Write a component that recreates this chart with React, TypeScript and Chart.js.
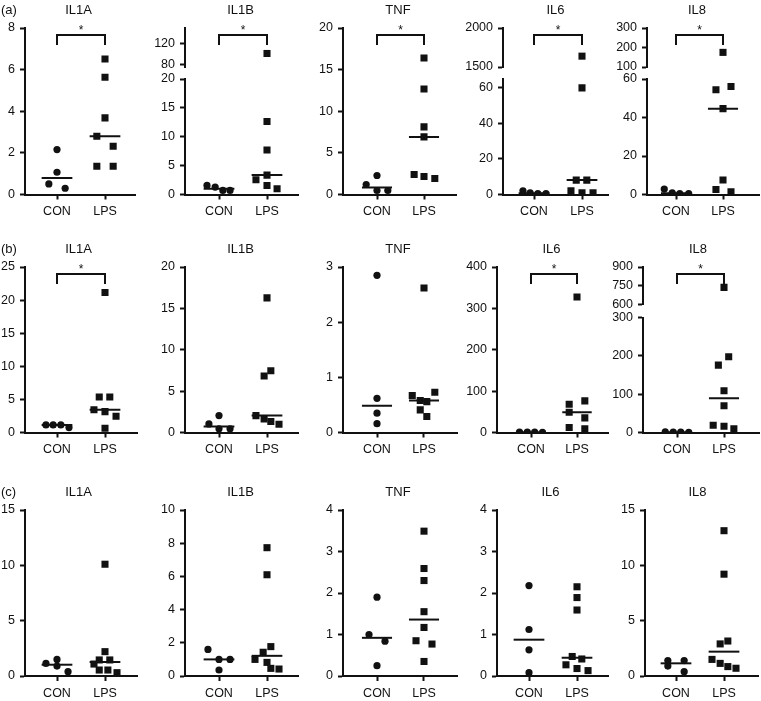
import React, { useEffect, useRef } from 'react';
import { Chart, registerables } from 'chart.js';

Chart.register(...registerables);

// ---------------- data ----------------
const genes = ['IL1A', 'IL1B', 'TNF', 'IL6', 'IL8'];
const groups = ['CON', 'LPS'];
const rowLabels = ['(a)', '(b)', '(c)'];

// Row (a)
const conA = [
  [2.16, 1.07, 0.51, 0.3],
  [1.57, 1.28, 0.7, 0.7],
  [1.2, 2.28, 0.48, 0.48],
  [2.06, 0.94, 0.56, 0.56],
  [2.8, 0.87, 0.5, 0.5],
];
const lpsA = [
  [6.51, 5.63, 3.68, 2.8, 2.32, 1.36, 1.36],
  [101, 12.64, 7.71, 3.36, 2.55, 1.57, 0.99],
  [16.4, 12.68, 8.12, 6.92, 2.4, 2.16, 1.92],
  [1639, 60, 8.1, 8.1, 2.06, 0.94, 0.94],
  [175, 54.4, 56.1, 44.6, 7.5, 2.6, 1.4],
];
const conJitA = [
  [0, 0, -0.17, 0.17],
  [-0.25, -0.08, 0.08, 0.23],
  [-0.23, 0, 0, 0.23],
  [-0.23, -0.08, 0.08, 0.25],
  [-0.25, -0.08, 0.08, 0.27],
];
const lpsJitA = [
  [0, 0, 0, -0.17, 0.17, -0.17, 0.17],
  [0, 0, 0, 0, -0.23, 0, 0.21],
  [0, 0, 0, 0, -0.21, 0, 0.23],
  [0, 0, -0.12, 0.1, -0.23, 0, 0.23],
  [0, -0.15, 0.17, 0, 0, -0.15, 0.17],
];

// Row (b)
const conB = [
  [1.15, 1.15, 1.15, 0.75],
  [1.04, 2.04, 0.44, 0.44],
  [2.85, 0.62, 0.35, 0.16],
  [1.2, 0.9, 0.7, 0.5],
  [1.5, 1.0, 0.8, 0.6],
];
const lpsB = [
  [21.15, 5.35, 5.35, 3.45, 3.15, 2.45, 0.65],
  [16.27, 6.83, 7.47, 2.04, 1.65, 1.33, 1.0],
  [2.62, 0.67, 0.58, 0.56, 0.73, 0.41, 0.29],
  [327.6, 68.4, 76.5, 49, 35.4, 12.1, 8.9],
  [737, 175.7, 197.4, 108.7, 69.6, 19.1, 16.5, 9.6],
];
const conJitB = [
  [-0.23, -0.08, 0.08, 0.25],
  [-0.21, 0, 0, 0.23],
  [0, 0, 0, 0],
  [-0.25, -0.08, 0.08, 0.25],
  [-0.25, -0.08, 0.08, 0.25],
];
const lpsJitB = [
  [0, -0.12, 0.1, -0.23, 0, 0.23, 0],
  [0, -0.06, 0.08, -0.23, -0.06, 0.08, 0.25],
  [0, -0.25, -0.08, 0.06, 0.23, -0.08, 0.06],
  [0, -0.17, 0.17, -0.17, 0.17, -0.17, 0.17],
  [0, -0.12, 0.1, 0, 0, -0.23, 0, 0.21],
];

// Row (c)
const conC = [
  [1.14, 1.5, 0.9, 0.39],
  [1.6, 1.0, 1.0, 0.36],
  [1.9, 1.0, 0.84, 0.25],
  [2.18, 1.12, 0.63, 0.08],
  [1.39, 0.9, 1.39, 0.39],
];
const lpsC = [
  [10.1, 2.2, 1.45, 1.45, 1.08, 0.54, 0.54, 0.3],
  [7.73, 6.1, 1.77, 1.43, 1.0, 0.82, 0.46, 0.42],
  [3.49, 2.59, 2.3, 1.55, 1.17, 0.85, 0.77, 0.35],
  [2.15, 1.89, 1.59, 0.47, 0.41, 0.27, 0.18, 0.13],
  [13.13, 9.2, 2.9, 3.16, 1.5, 1.14, 0.85, 0.7],
];
const conJitC = [
  [-0.23, 0, 0, 0.23],
  [-0.23, 0, 0.23, 0],
  [0, -0.17, 0.17, 0],
  [0, 0, 0, 0],
  [-0.17, -0.17, 0.17, 0.17],
];
const lpsJitC = [
  [0, 0, -0.12, 0.1, -0.23, -0.12, 0.06, 0.25],
  [0, 0, 0.08, -0.08, -0.25, 0, 0.08, 0.25],
  [0, 0, 0, 0, 0, -0.17, 0.17, 0],
  [0, 0, 0, -0.1, 0.1, -0.23, 0, 0.23],
  [0, 0, -0.08, 0.08, -0.25, -0.08, 0.08, 0.25],
];

// y-axis ticks (lower / main segment)
const yTicksA = [[0, 2, 4, 6, 8], [0, 5, 10, 15, 20], [0, 5, 10, 15, 20], [0, 20, 40, 60], [0, 20, 40, 60]];
const yTicksB = [[0, 5, 10, 15, 20, 25], [0, 5, 10, 15, 20], [0, 1, 2, 3], [0, 100, 200, 300, 400], [0, 100, 200, 300]];
const yTicksC = [[0, 5, 10, 15], [0, 2, 4, 6, 8, 10], [0, 1, 2, 3, 4], [0, 1, 2, 3, 4], [0, 5, 10, 15]];
const yMaxA = [8, 20, 20, 65, 60];
const yMaxB = [25, 20, 3, 400, 300];
const yMaxC = [15, 10, 4, 4, 15];
// upper segment of broken axes
const upperTicksA = [null, [80, 120], null, [1500, 2000], [100, 200, 300]];
const upperTicksB = [null, null, null, null, [600, 750, 900]];
const upperTicksC = [null, null, null, null, null];
const upperRangeA = [null, [75, 150], null, [1500, 2000], [100, 300]];
const upperRangeB = [null, null, null, null, [600, 900]];
const upperRangeC = [null, null, null, null, null];
// significance brackets
const sigA = [true, true, true, true, true];
const sigB = [true, false, false, true, true];
const sigC = [false, false, false, false, false];

const CON = [conA, conB, conC];
const LPS = [lpsA, lpsB, lpsC];
const CONJ = [conJitA, conJitB, conJitC];
const LPSJ = [lpsJitA, lpsJitB, lpsJitC];
const YTICKS = [yTicksA, yTicksB, yTicksC];
const YMAX = [yMaxA, yMaxB, yMaxC];
const UPT = [upperTicksA, upperTicksB, upperTicksC];
const UPR = [upperRangeA, upperRangeB, upperRangeC];
const SIG = [sigA, sigB, sigC];

// ---------------- layout / style ----------------
const AXIS_X = [[25, 185, 343, 503, 647], [25, 185, 343, 497, 643], [25, 185, 343, 497, 645]];
const CON_X = [[57, 219, 377, 534, 676], [57, 219, 377, 531, 677], [57, 219, 377, 529, 676]];
const LPS_X = [[105, 267, 424, 582, 723], [105, 267, 424, 577, 724], [105, 267, 424, 577, 724]];
const RIGHT_X = [[135, 298, 456, 608, 759], [137, 298, 457, 608, 759], [137, 298, 457, 608, 758]];
const PLOT_TOP = [28, 267, 510];
const PLOT_BOTTOM = [194.5, 432.5, 676];
const BREAK_UPPER = [39, 37.5, 0];
const BREAK_GAP = [12, 13, 0];

const FONT = "'Liberation Sans', Arial, Helvetica, sans-serif";
const INK = '#111';
const YW = 44;
const HX = 32;
const PAD_T = 32;
const PAD_R = 6;
const MED_HALF = 0.32;

Chart.defaults.font.family = FONT;

function median(arr: number[]) {
  const s = [...arr].sort((a, b) => a - b);
  const n = s.length;
  return n % 2 ? s[(n - 1) / 2] : (s[n / 2 - 1] + s[n / 2]) / 2;
}

function geometry(r: number, c: number) {
  const axisX = AXIS_X[r][c];
  const rightX = RIGHT_X[r][c];
  const left = Math.floor(axisX - YW);
  const padLeft = axisX - YW - left;
  const top = Math.floor(PLOT_TOP[r] - PAD_T);
  const padTop = PLOT_TOP[r] - top;
  const plotH = PLOT_BOTTOM[r] - PLOT_TOP[r];
  const height = Math.ceil(padTop + plotH + HX);
  const padBottom = height - padTop - plotH - HX;
  const width = Math.ceil(rightX + PAD_R - left);
  const padRight = width - (rightX - left);
  const sp = LPS_X[r][c] - CON_X[r][c];
  const xMin = -(CON_X[r][c] - axisX) / sp;
  const xMax = 1 + (rightX - LPS_X[r][c]) / sp;
  return { left, top, width, height, plotH, padding: { left: padLeft, top: padTop, right: padRight, bottom: padBottom }, xMin, xMax };
}

function buildConfig(r: number, c: number, geo: any): any {
  const ticks = YTICKS[r][c];
  const yMax = YMAX[r][c];
  const upT = UPT[r][c];
  const upR = UPR[r][c];
  const broken = !!upT;
  const datasets: any[] = [];

  const addGroup = (vals: number[], jit: number[], g: number, style: string, radius: number) => {
    const parts = broken ? [false, true] : [false];
    for (const hi of parts) {
      const data = vals
        .map((v, i) => ({ x: g + jit[i], y: v }))
        .filter((p) => (broken && p.y > yMax) === hi);
      datasets.push({
        data,
        yAxisID: hi ? 'yU' : 'y',
        pointStyle: style,
        pointRadius: radius,
        backgroundColor: INK,
        borderColor: INK,
        borderWidth: 0,
        showLine: false,
      });
    }
    const m = median(vals);
    datasets.push({
      data: [{ x: g - MED_HALF, y: m }, { x: g + MED_HALF, y: m }],
      yAxisID: broken && m > yMax ? 'yU' : 'y',
      showLine: true,
      borderColor: INK,
      borderWidth: 2,
      pointRadius: 0,
    });
  };
  addGroup(CON[r][c], CONJ[r][c], 0, 'circle', 3.6);
  addGroup(LPS[r][c], LPSJ[r][c], 1, 'rect', 5);

  const tickFont = { family: FONT, size: 12.5 };
  const grid = { display: true, drawOnChartArea: false, drawTicks: true, tickLength: 5, tickWidth: 2, tickColor: INK, color: INK };
  const border = { display: true, width: 2, color: INK };
  const lowerH = geo.plotH - BREAK_UPPER[r] - BREAK_GAP[r];

  const yScale = (min: number, max: number, tk: number[], weight: number) => ({
    type: 'linear',
    position: 'left',
    min,
    max,
    ...(broken ? { stack: 'v', stackWeight: weight } : {}),
    afterBuildTicks: (s: any) => {
      s.ticks = tk.map((v) => ({ value: v }));
    },
    ticks: { callback: (v: any) => String(v), font: tickFont, color: INK, padding: 5, autoSkip: false },
    grid,
    border,
    afterFit: (s: any) => {
      s.width = YW;
    },
  });

  const scales: any = {
    x: {
      type: 'linear',
      position: 'bottom',
      min: geo.xMin,
      max: geo.xMax,
      afterBuildTicks: (s: any) => {
        s.ticks = groups.map((_, i) => ({ value: i }));
      },
      ticks: { callback: (v: any) => groups[v], font: tickFont, color: INK, padding: 5, autoSkip: false, maxRotation: 0 },
      grid,
      border,
      afterFit: (s: any) => {
        s.height = HX;
      },
    },
    y: yScale(0, yMax, ticks, lowerH),
  };
  if (broken) {
    scales.yG = {
      type: 'linear',
      position: 'left',
      min: 0,
      max: 1,
      stack: 'v',
      stackWeight: BREAK_GAP[r],
      ticks: { display: false },
      grid: { display: false },
      border: { display: false },
      afterFit: (s: any) => {
        s.width = YW;
      },
    };
    scales.yU = yScale(upR![0], upR![1], upT!, BREAK_UPPER[r]);
  }

  const title = genes[c];
  const rowLabel = c === 0 ? rowLabels[r] : null;
  const sig = SIG[r][c];

  const deco = {
    id: 'deco',
    afterDraw(chart: any) {
      const { ctx, chartArea } = chart;
      const xs = chart.scales.x;
      const x0 = xs.getPixelForValue(0);
      const x1 = xs.getPixelForValue(1);
      ctx.save();
      ctx.fillStyle = INK;
      ctx.strokeStyle = INK;
      ctx.font = `13px ${FONT}`;
      ctx.textAlign = 'center';
      ctx.textBaseline = 'middle';
      ctx.fillText(title, (x0 + x1) / 2 - 2.5, chartArea.top - 18);
      if (rowLabel) {
        ctx.textAlign = 'left';
        ctx.fillText(rowLabel, chartArea.left - 24, chartArea.top - 18);
      }
      if (sig) {
        const yTop = chartArea.top + 7;
        const yDrop = chartArea.top + 17;
        ctx.lineWidth = 2;
        ctx.beginPath();
        ctx.moveTo(x0, yDrop);
        ctx.lineTo(x0, yTop);
        ctx.lineTo(x1, yTop);
        ctx.lineTo(x1, yDrop);
        ctx.stroke();
        ctx.textAlign = 'center';
        ctx.font = `12px ${FONT}`;
        ctx.fillText('*', (x0 + x1) / 2, chartArea.top + 3);
      }
      ctx.restore();
    },
  };

  return {
    type: 'scatter',
    data: { datasets },
    options: {
      animation: false,
      responsive: false,
      events: [],
      layout: { padding: geo.padding },
      plugins: { legend: { display: false }, title: { display: false }, tooltip: { enabled: false } },
      scales,
    },
    plugins: [deco],
  };
}

function Panel({ r, c }: { r: number; c: number }) {
  const ref = useRef<HTMLCanvasElement>(null);
  const geo = geometry(r, c);
  useEffect(() => {
    if (!ref.current) return;
    const chart = new Chart(ref.current, buildConfig(r, c, geo));
    return () => chart.destroy();
  }, []);
  return (
    <canvas
      ref={ref}
      width={geo.width}
      height={geo.height}
      style={{ position: 'absolute', left: geo.left, top: geo.top, width: geo.width, height: geo.height }}
    />
  );
}

export default function App() {
  const panels: any[] = [];
  for (let r = 0; r < 3; r++) {
    for (let c = 0; c < 5; c++) {
      panels.push(<Panel key={`${r}-${c}`} r={r} c={c} />);
    }
  }
  return (
    <div style={{ position: 'absolute', left: 0, top: 0, width: 761, height: 701, overflow: 'hidden', background: '#fff' }}>
      {panels}
    </div>
  );
}
